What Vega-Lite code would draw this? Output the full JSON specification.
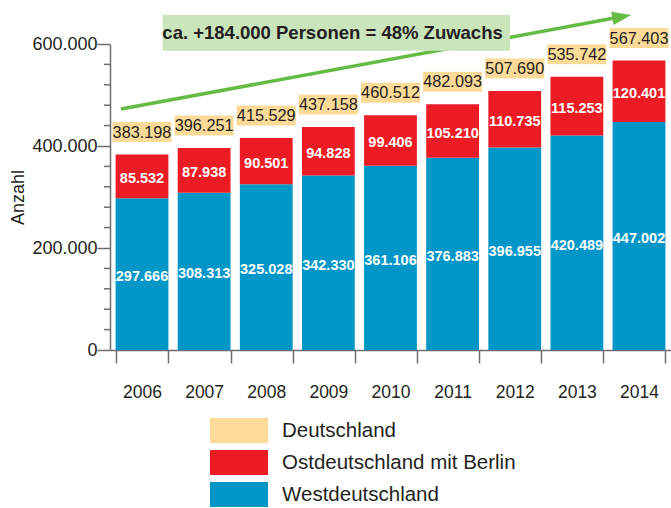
{
  "$schema": "https://vega.github.io/schema/vega-lite/v6.json",
  "width": 561,
  "height": 306,
  "autosize": "none",
  "padding": {"left": 110, "top": 44, "right": 0, "bottom": 158},
  "background": "white",
  "config": {
    "view": {"stroke": null},
    "font": "Liberation Sans",
    "locale": {"number": {"decimal": ",", "thousands": ".", "grouping": [3], "currency": ["", " €"]}}
  },
  "datasets": {
    "segments": [
      {"year": "2006", "region": "Westdeutschland", "value": 297666},
      {"year": "2006", "region": "Ostdeutschland mit Berlin", "value": 85532},
      {"year": "2007", "region": "Westdeutschland", "value": 308313},
      {"year": "2007", "region": "Ostdeutschland mit Berlin", "value": 87938},
      {"year": "2008", "region": "Westdeutschland", "value": 325028},
      {"year": "2008", "region": "Ostdeutschland mit Berlin", "value": 90501},
      {"year": "2009", "region": "Westdeutschland", "value": 342330},
      {"year": "2009", "region": "Ostdeutschland mit Berlin", "value": 94828},
      {"year": "2010", "region": "Westdeutschland", "value": 361106},
      {"year": "2010", "region": "Ostdeutschland mit Berlin", "value": 99406},
      {"year": "2011", "region": "Westdeutschland", "value": 376883},
      {"year": "2011", "region": "Ostdeutschland mit Berlin", "value": 105210},
      {"year": "2012", "region": "Westdeutschland", "value": 396955},
      {"year": "2012", "region": "Ostdeutschland mit Berlin", "value": 110735},
      {"year": "2013", "region": "Westdeutschland", "value": 420489},
      {"year": "2013", "region": "Ostdeutschland mit Berlin", "value": 115253},
      {"year": "2014", "region": "Westdeutschland", "value": 447002},
      {"year": "2014", "region": "Ostdeutschland mit Berlin", "value": 120401}
    ],
    "totals": [
      {"year": "2006", "total": 383198},
      {"year": "2007", "total": 396251},
      {"year": "2008", "total": 415529},
      {"year": "2009", "total": 437158},
      {"year": "2010", "total": 460512},
      {"year": "2011", "total": 482093},
      {"year": "2012", "total": 507690},
      {"year": "2013", "total": 535742},
      {"year": "2014", "total": 567403}
    ],
    "minorTicks": [
      {"tick": 40000}, {"tick": 80000}, {"tick": 120000}, {"tick": 160000},
      {"tick": 240000}, {"tick": 280000}, {"tick": 320000}, {"tick": 360000},
      {"tick": 440000}, {"tick": 480000}, {"tick": 520000}, {"tick": 560000}
    ],
    "arrow": [{"x": 2005.676, "y": 472500, "x2": 2013.70, "y2": 653300}],
    "tip": [{"x": 2013.86, "y": 657000}],
    "note": [{"x": 2006.345, "x2": 2011.917, "y": 587000, "y2": 657000, "tx": 2006.34, "ty": 621500, "label": "ca. +184.000 Personen = 48% Zuwachs"}]
  },
  "layer": [
    {
      "layer": [
        {
          "data": {"name": "segments"},
          "mark": {"type": "bar"},
          "encoding": {
            "x": {
              "field": "year", "type": "ordinal",
              "scale": {"paddingInner": 0.15, "paddingOuter": 0.09},
              "axis": {
                "title": null, "labelAngle": 0, "tickBand": "extent", "tickSize": 13,
                "labelFontSize": 17.5, "labelPadding": 20, "labelColor": "#231F20",
                "domainColor": "#6D6E71", "tickColor": "#6D6E71", "domainWidth": 1.5, "tickWidth": 1.5
              }
            },
            "y": {
              "field": "value", "type": "quantitative", "stack": "zero",
              "scale": {"domain": [0, 600000], "nice": false},
              "axis": {
                "title": "Anzahl", "titleFontSize": 18, "titleFontWeight": "normal", "titleColor": "#231F20", "titlePadding": 4,
                "values": [0, 200000, 400000, 600000],
                "labelExpr": "replace(format(datum.value, ','), ',', '.')",
                "labelOverlap": false, "labelBound": false, "labelFlush": false,
                "tickSize": 13,
                "labelPadding": 0, "labelFontSize": 18, "labelColor": "#231F20", "grid": false,
                "domainColor": "#6D6E71", "tickColor": "#6D6E71", "domainWidth": 1.5, "tickWidth": 1.5
              }
            },
            "color": {
              "field": "region", "type": "nominal",
              "scale": {"domain": ["Deutschland", "Ostdeutschland mit Berlin", "Westdeutschland"], "range": ["#FDDA98", "#ED1C24", "#0096C8"]},
              "legend": {
                "title": null, "orient": "none", "legendX": 116.5, "legendY": 374,
                "symbolType": "M-2.32,-1H2.32V1H-2.32Z", "symbolSize": 625, "symbolStrokeWidth": 0, "symbolOpacity": 1,
                "labelFontSize": 20.5, "labelColor": "#231F20", "labelOffset": 30.5, "labelLimit": 400, "rowPadding": 7, "padding": 0
              }
            },
            "order": {"field": "region", "sort": "descending"}
          }
        },
        {
          "data": {"name": "segments"},
          "transform": [
            {"stack": "value", "groupby": ["year"], "sort": [{"field": "region", "order": "descending"}], "as": ["v0", "v1"]},
            {"fold": ["v0", "v1"], "as": ["edge", "pos"]}
          ],
          "mark": {"type": "text", "color": "white", "fontWeight": "bold", "fontSize": 14.5, "baseline": "middle", "dy": 3},
          "encoding": {
            "x": {"field": "year", "type": "ordinal"},
            "y": {"field": "pos", "type": "quantitative", "aggregate": "mean"},
            "detail": {"field": "region", "type": "nominal"},
            "text": {"field": "value", "type": "quantitative", "aggregate": "max", "format": ","}
          }
        },
        {
          "data": {"name": "totals"},
          "mark": {"type": "bar", "width": 59, "yOffset": -32.5, "y2Offset": -12.5, "color": "#FDDA98"},
          "encoding": {
            "x": {"field": "year", "type": "ordinal"},
            "y": {"field": "total", "type": "quantitative"},
            "y2": {"field": "total"}
          }
        },
        {
          "data": {"name": "totals"},
          "mark": {"type": "text", "color": "#231F20", "fontSize": 16.3, "baseline": "middle", "dy": -22},
          "encoding": {
            "x": {"field": "year", "type": "ordinal"},
            "y": {"field": "total", "type": "quantitative"},
            "text": {"field": "total", "type": "quantitative", "format": ","}
          }
        }
      ]
    },
    {
      "layer": [
        {
          "data": {"name": "minorTicks"},
          "mark": {"type": "rule", "color": "#6D6E71", "strokeWidth": 1.5},
          "encoding": {
            "x": {"datum": 2005.5, "type": "quantitative", "scale": {"domain": [2005.5, 2014.5], "nice": false, "zero": false}, "axis": null},
            "x2": {"datum": 2005.404},
            "y": {"field": "tick", "type": "quantitative", "scale": {"domain": [0, 600000], "nice": false}, "axis": null}
          }
        },
        {
          "data": {"name": "arrow"},
          "mark": {"type": "rule", "color": "#66BB44", "strokeWidth": 3.5},
          "encoding": {
            "x": {"field": "x", "type": "quantitative"},
            "x2": {"field": "x2"},
            "y": {"field": "y", "type": "quantitative"},
            "y2": {"field": "y2"}
          }
        },
        {
          "data": {"name": "tip"},
          "mark": {"type": "point", "shape": "M0,0L-2,-0.7L-2,0.7Z", "size": 361, "angle": 349.56, "filled": true, "color": "#66BB44", "opacity": 1, "strokeWidth": 0},
          "encoding": {
            "x": {"field": "x", "type": "quantitative"},
            "y": {"field": "y", "type": "quantitative"}
          }
        },
        {
          "data": {"name": "note"},
          "mark": {"type": "rect", "color": "#CAE4BB"},
          "encoding": {
            "x": {"field": "x", "type": "quantitative"},
            "x2": {"field": "x2"},
            "y": {"field": "y", "type": "quantitative"},
            "y2": {"field": "y2"}
          }
        },
        {
          "data": {"name": "note"},
          "mark": {"type": "text", "align": "left", "baseline": "middle", "fontWeight": "bold", "fontSize": 18.5, "color": "#231F20"},
          "encoding": {
            "x": {"field": "tx", "type": "quantitative"},
            "y": {"field": "ty", "type": "quantitative"},
            "text": {"field": "label"}
          }
        }
      ]
    }
  ],
  "resolve": {"scale": {"x": "independent", "y": "independent"}}
}
